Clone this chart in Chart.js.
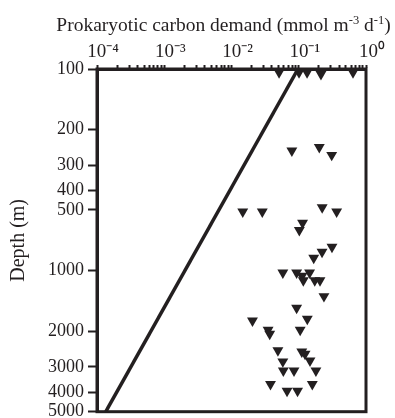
<!DOCTYPE html>
<html><head><meta charset="utf-8">
<script src="https://cdn.jsdelivr.net/npm/chart.js@4/dist/chart.umd.min.js"></script>
<style>html,body{margin:0;padding:0;background:#fff}</style>
</head><body>
<canvas id="c" width="395" height="418"></canvas>
<script>
// Scatter observations: prokaryotic carbon demand (mmol m-3 d-1) vs depth (m)
const carbonDemand = [0.051, 0.101, 0.133, 0.214, 0.641, 0.079, 0.202, 0.309, 0.0147, 0.0287, 0.223, 0.366, 0.114, 0.102, 0.312, 0.222, 0.167, 0.058, 0.093, 0.145, 0.112, 0.117, 0.173, 0.207, 0.237, 0.093, 0.134, 0.0205, 0.035, 0.037, 0.105, 0.049, 0.111, 0.124, 0.058, 0.147, 0.059, 0.085, 0.180, 0.038, 0.159, 0.067, 0.096];
const depth = [104, 104, 104, 106, 104, 254, 244, 267, 510, 510, 486, 510, 580, 630, 762, 807, 865, 1023, 1023, 1023, 1062, 1117, 1117, 1117, 1339, 1528, 1733, 1767, 1966, 2057, 1966, 2486, 2521, 2588, 2820, 2794, 3133, 3133, 3133, 3650, 3650, 3941, 3941];
// Model line
const modelDepth = [100, 5000];
const modelCarbonDemand = [0.0975, 0.000135];
// Axes
const xMajorTicks = [1e-4, 1e-3, 1e-2, 1e-1, 1];
const xTickLabels = ['10\u207B\u2074', '10\u207B\u00B3', '10\u207B\u00B2', '10\u207B\u00B9', '10\u2070'];
const xMinorMultipliers = [2, 3, 4, 5, 6, 7, 8, 9];
const yTicks = [100, 200, 300, 400, 500, 1000, 2000, 3000, 4000, 5000];
const yTickLabels = ['100', '200', '300', '400', '500', '1000', '2000', '3000', '4000', '5000'];
// x-axis title split into normal / superscript runs
const xTitleRuns = [
  {text: 'Prokaryotic carbon demand (mmol m', sup: false},
  {text: '-3', sup: true},
  {text: ' d', sup: false},
  {text: '-1', sup: true},
  {text: ')', sup: false}
];
const yTitle = 'Depth (m)';

const INK = '#231f20';
const FONT = "'Liberation Serif','Times New Roman',serif";

const scatterData = carbonDemand.map((v, i) => ({x: v, y: depth[i]}));
const lineData = modelCarbonDemand.map((v, i) => ({x: v, y: modelDepth[i]}));

const xTickValues = [];
xMajorTicks.forEach((m, i) => {
  xTickValues.push(m);
  if (i < xMajorTicks.length - 1) xMinorMultipliers.forEach(k => xTickValues.push(m * k));
});

const framePlugin = {
  id: 'frame',
  afterDatasetsDraw(chart) {
    const {ctx, chartArea: a} = chart;
    ctx.save();
    ctx.strokeStyle = INK;
    ctx.lineWidth = 3;
    ctx.strokeRect(a.left, a.top, a.right - a.left, a.bottom - a.top);
    ctx.restore();
  }
};

const xTitlePlugin = {
  id: 'xTitle',
  afterDraw(chart) {
    const {ctx, chartArea: a} = chart;
    const base = '19.5px ' + FONT, small = '12.5px ' + FONT;
    ctx.save();
    ctx.fillStyle = INK;
    ctx.textBaseline = 'alphabetic';
    ctx.textAlign = 'left';
    let total = 0;
    xTitleRuns.forEach(r => { ctx.font = r.sup ? small : base; total += ctx.measureText(r.text).width; });
    let x = (a.left + a.right) / 2 - 8 - total / 2;
    const y = 31;
    xTitleRuns.forEach(r => {
      ctx.font = r.sup ? small : base;
      ctx.fillText(r.text, x, r.sup ? y - 7 : y);
      x += ctx.measureText(r.text).width;
    });
    ctx.restore();
  }
};

new Chart(document.getElementById('c'), {
  type: 'scatter',
  data: {
    datasets: [
      {
        data: lineData,
        showLine: true,
        borderColor: INK,
        borderWidth: 3.5,
        pointRadius: 0,
        pointHoverRadius: 0,
        fill: false
      },
      {
        data: scatterData,
        pointStyle: 'triangle',
        rotation: 180,
        pointRadius: 6.3,
        pointHoverRadius: 6.3,
        backgroundColor: INK,
        borderColor: INK,
        borderWidth: 0,
        clip: false
      }
    ]
  },
  options: {
    responsive: false,
    animation: false,
    events: [],
    layout: {padding: {left: 0, top: 0, right: 29, bottom: 6}},
    plugins: {legend: {display: false}, tooltip: {enabled: false}},
    scales: {
      x: {
        type: 'logarithmic',
        position: 'top',
        min: 1e-4,
        max: 1,
        border: {display: true, width: 3, color: INK},
        grid: {display: true, drawOnChartArea: false, drawTicks: true, tickLength: 4, tickWidth: 2, tickColor: INK},
        afterBuildTicks(scale) { scale.ticks = xTickValues.map(v => ({value: v})); },
        afterFit(scale) { scale.height = 69; scale.paddingLeft = 0; scale.paddingRight = 0; },
        ticks: {
          autoSkip: false, maxRotation: 0, minRotation: 0, padding: 2, labelOffset: 6,
          color: INK, font: {family: FONT, size: 19},
          callback(value) {
            const i = xMajorTicks.findIndex(m => Math.abs(Math.log10(m) - Math.log10(value)) < 1e-6);
            return i >= 0 ? xTickLabels[i] : '';
          }
        },
        title: {display: false}
      },
      y: {
        type: 'logarithmic',
        reverse: true,
        min: 100,
        max: 5000,
        border: {display: true, width: 3, color: INK},
        grid: {display: true, drawOnChartArea: false, drawTicks: true, tickLength: 9, tickWidth: 2, tickColor: INK},
        afterBuildTicks(scale) { scale.ticks = yTicks.map(v => ({value: v})); },
        afterFit(scale) { scale.width = 97; scale.paddingTop = 0; scale.paddingBottom = 0; },
        ticks: {
          autoSkip: false, padding: 4, color: INK, font: {family: FONT, size: 18},
          callback(value) {
            const i = yTicks.indexOf(Math.round(value));
            return i >= 0 ? yTickLabels[i] : '';
          }
        },
        title: {display: true, text: yTitle, color: INK, font: {family: FONT, size: 20}, padding: {top: 7, bottom: 0}}
      }
    }
  },
  plugins: [framePlugin, xTitlePlugin]
});
</script>
</body></html>
